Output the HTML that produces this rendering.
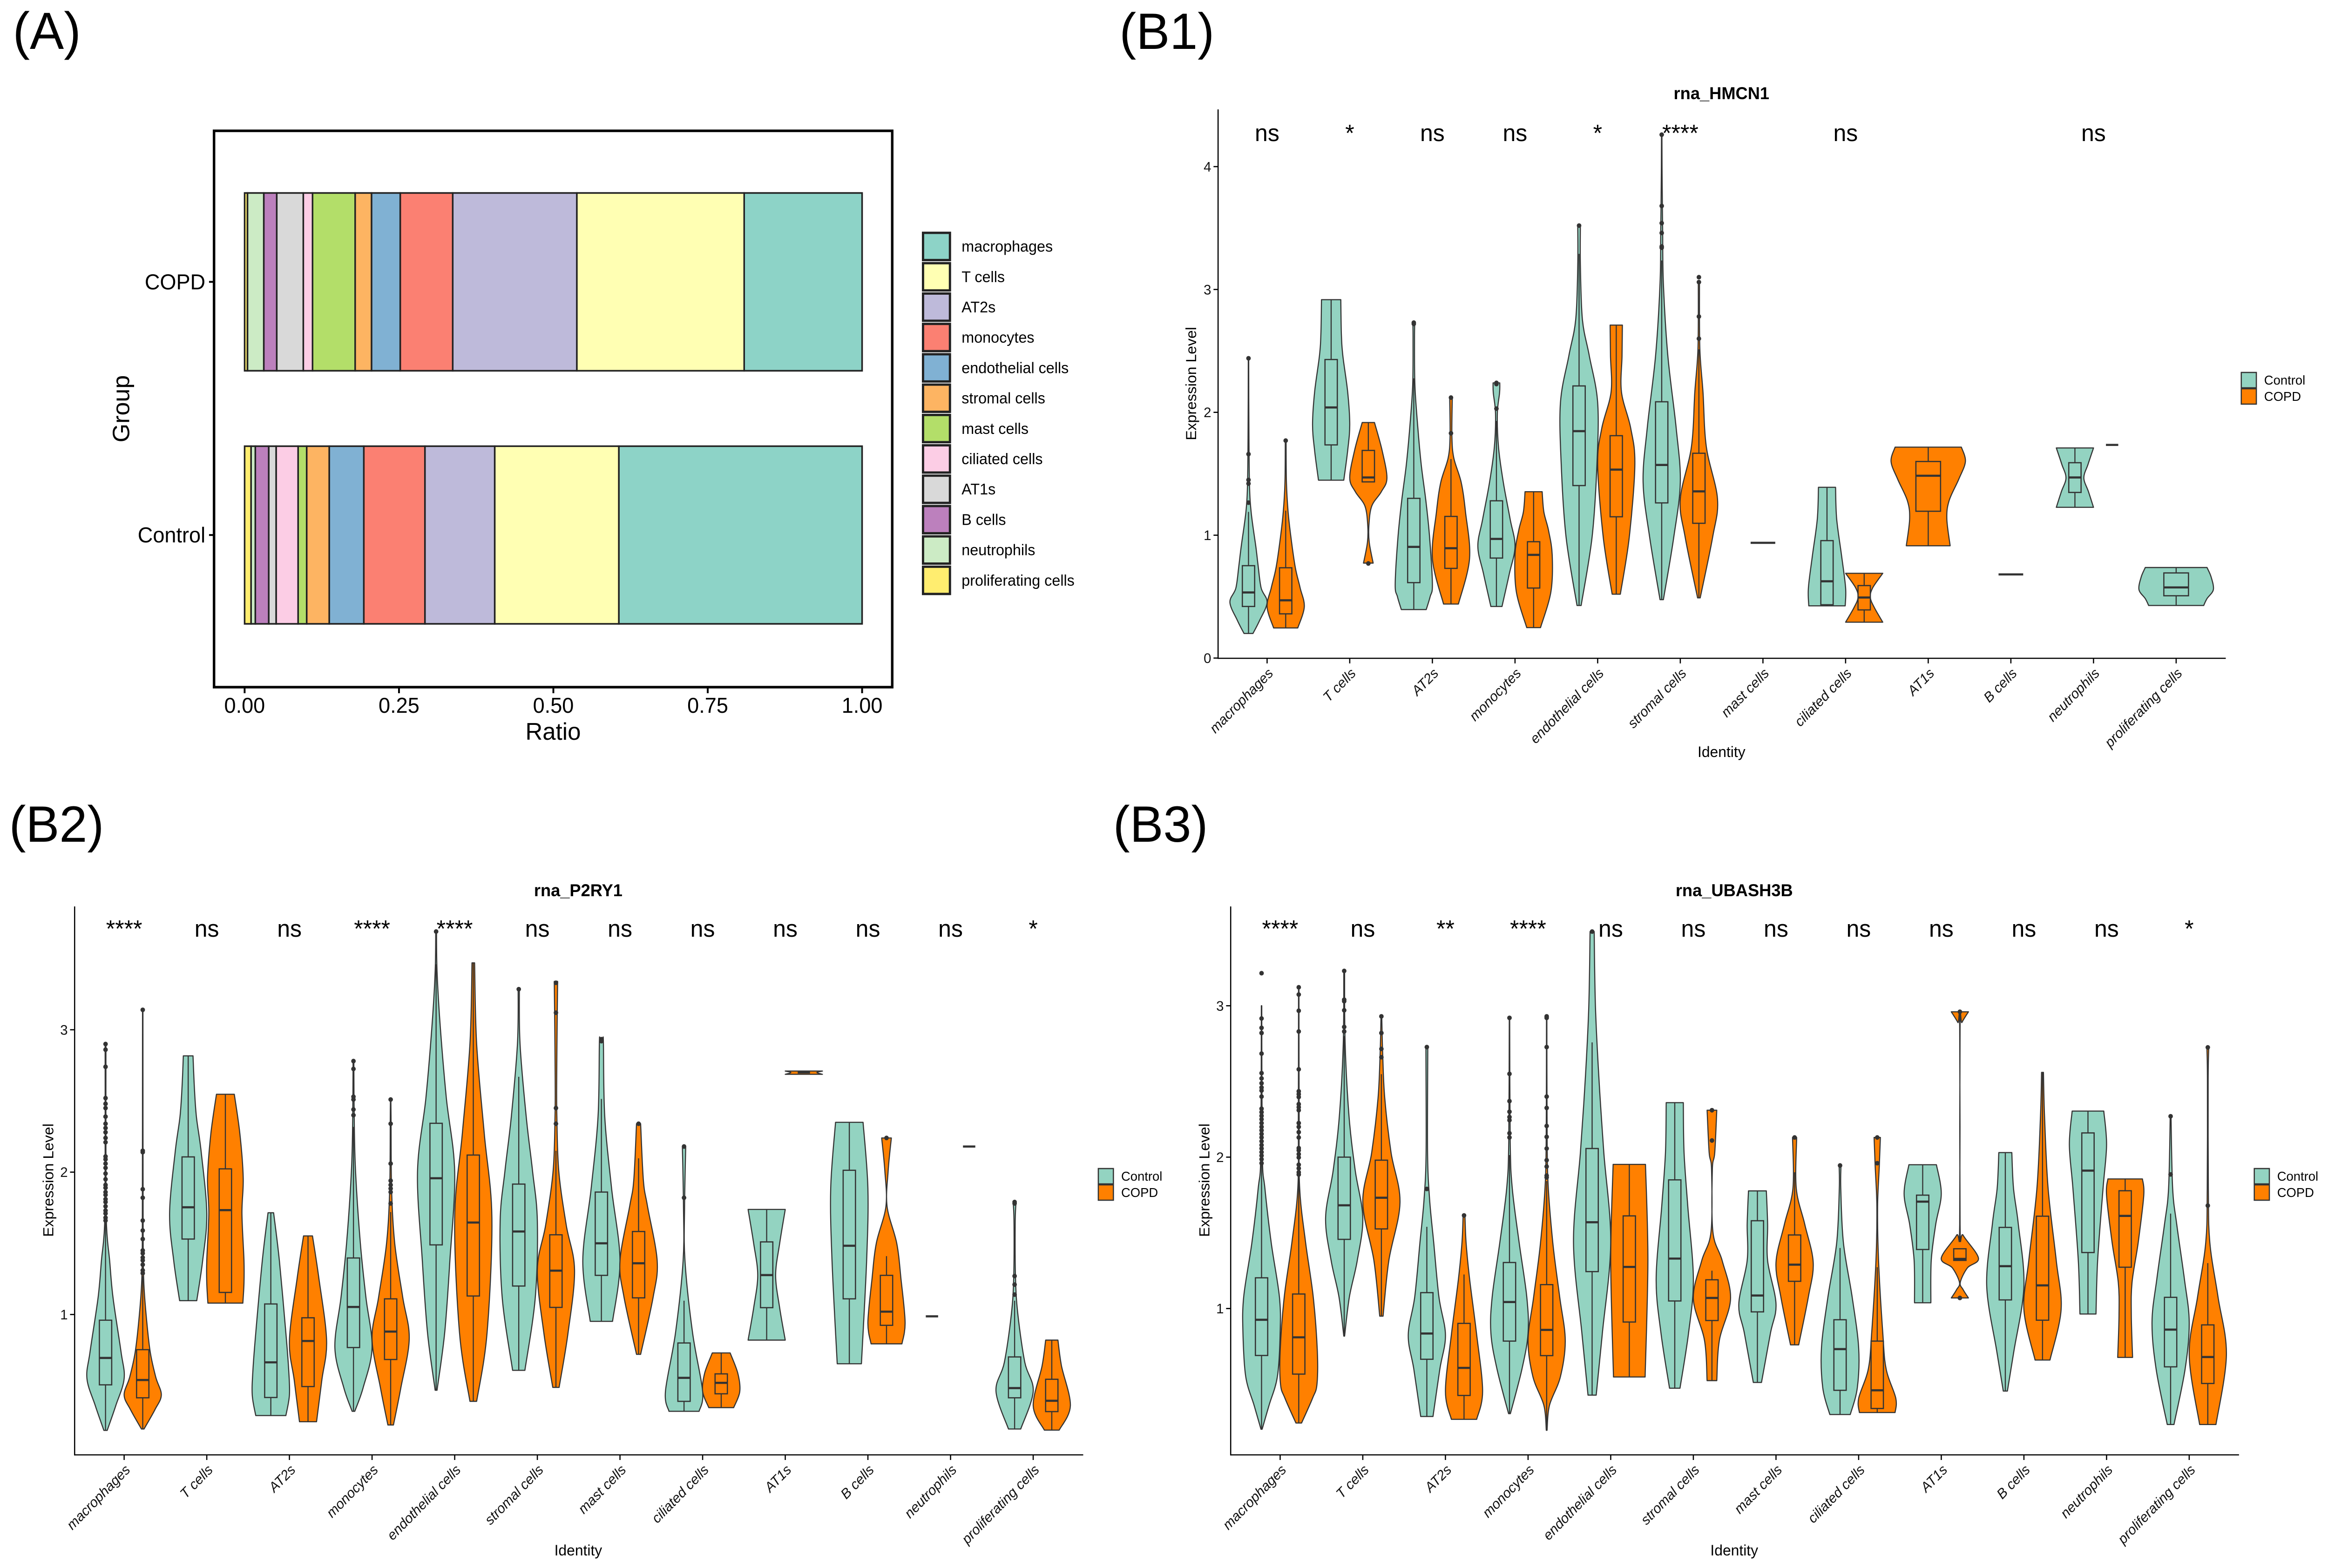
<!DOCTYPE html>
<html>
<head>
<meta charset="utf-8">
<title>Cell ratio and expression violin plots</title>
<style>
html,body{margin:0;padding:0;background:#fff;width:100%;height:100%;overflow:hidden;}
svg{display:block;width:100vw;height:100vh;font-family:"Liberation Sans",sans-serif;}
</style>
</head>
<body>
<svg id="figure" xmlns="http://www.w3.org/2000/svg" viewBox="0 0 5101 3368" preserveAspectRatio="none">
<rect x="0" y="0" width="5101" height="3368" fill="#ffffff"/>
</svg>
<script>
/* ---------- shared categories ---------- */
const cellTypes = ['macrophages','T cells','AT2s','monocytes','endothelial cells','stromal cells','mast cells','ciliated cells','AT1s','B cells','neutrophils','proliferating cells'];
const setColors = ['#8DD3C7','#FFFFB3','#BEBADA','#FB8072','#80B1D3','#FDB462','#B3DE69','#FCCDE5','#D9D9D9','#BC80BD','#CCEBC5','#FFED6F'];
const groupNames = ['Control','COPD'];
const groupColors = ['#93D3C1','#FF8000'];

/* ---------- panel A ---------- */
const ratioGroups = ['COPD','Control'];
const ratioCopd = [0.191,0.271,0.201,0.085,0.0465,0.0265,0.069,0.015,0.043,0.021,0.0264,0.0046];
const ratioControl = [0.394,0.201,0.113,0.099,0.056,0.0365,0.0139,0.0356,0.012,0.0217,0.0069,0.0104];
const ratioTicks = [0,0.25,0.5,0.75,1];
const ratioTickLabels = ['0.00','0.25','0.50','0.75','1.00'];

/* ---------- panel B1: rna_HMCN1 ---------- */
const hmcn1Signif = ['ns','*','ns','ns','*','****','','ns','','','ns',''];
const hmcn1Ticks = [0,1,2,3,4];
const hmcn1ControlShape = [
 [[.2,.24],[.307,.6],[.454,1],[.57,.68],[.75,.52],[.9,.4],[1.19,.14],[1.43,.05],[1.9,.02],[2.44,.01]],
 [[1.448,.68],[1.69,.89],[1.9,1],[2.165,.89],[2.46,.63],[2.64,.55],[2.917,.52]],
 [[.395,.67],[.5,.88],[.6,1],[.985,.85],[1.28,.65],[1.575,.4],[1.87,.22],[2.22,.06],[2.6,.04],[2.73,.05]],
 [[.42,.3],[.69,.7],[.91,1],[1.13,.74],[1.43,.37],[1.72,.11],[1.99,.05],[2.16,.17],[2.24,.18]],
 [[.428,.11],[.985,.7],[1.575,.96],[2.08,1],[2.46,.55],[2.755,.18],[3.2,.07],[3.52,.07]],
 [[.475,.09],[.985,.65],[1.43,1],[1.87,.78],[2.46,.33],[3.05,.09],[3.49,.05],[3.93,.02],[4.26,.01]],
 null,
 [[.425,.98],[.572,1],[.838,.78],[1.133,.52],[1.39,.46]],
 null,
 null,
 [[1.227,1],[1.354,.73],[1.466,.48],[1.575,.7],[1.71,1]],
 [[.428,.74],[.484,.83],[.557,1],[.66,.94],[.737,.83]]
];
const hmcn1CopdShape = [
 [[.245,.65],[.416,1],[.57,.78],[.735,.52],[.985,.28],[1.19,.13],[1.43,.04],[1.77,.02]],
 [[.773,.26],[.94,.05],[1.074,.03],[1.236,.18],[1.354,.7],[1.466,1],[1.69,.74],[1.917,.33]],
 [[.44,.4],[.81,1],[1.19,.78],[1.43,.55],[1.63,.15],[1.81,.05],[2.12,.07]],
 [[.248,.37],[.54,.93],[.84,1],[1.04,.8],[1.19,.55],[1.354,.46]],
 [[.52,.22],[.985,.7],[1.575,1],[1.87,.78],[2.165,.28],[2.46,.31],[2.71,.33]],
 [[.49,.07],[.985,.74],[1.295,1],[1.72,.4],[2.165,.22],[2.52,.05],[3.05,.03]],
 null,
 [[.292,1],[.41,.55],[.493,.33],[.572,.46],[.69,1]],
 [[.914,.59],[1.133,.5],[1.28,.56],[1.455,.82],[1.6,1],[1.717,.89]],
 null,
 null,
 null
];
const hmcn1ControlBox = [[.2,.42,.534,.752,1.19],[1.448,1.735,2.04,2.43,2.917],[.395,.614,.905,1.3,2.277],[.42,.814,.97,1.28,1.93],[.428,1.404,1.847,2.215,3.29],[.475,1.263,1.572,2.086,3.236],[.938,.938,.938,.938,.938],[.425,.434,.625,.956,1.39],null,[.681,.681,.681,.681,.681],[1.227,1.348,1.47,1.59,1.71],[.428,.507,.575,.693,.737]];
const hmcn1CopdBox = [[.245,.36,.47,.735,1.2],[1.434,1.434,1.47,1.69,1.917],[.44,.73,.894,1.153,1.62],[.248,.57,.84,.947,1.354],[.52,1.15,1.534,1.81,2.71],[.49,1.097,1.357,1.667,2.513],null,[.292,.392,.493,.59,.69],[.914,1.195,1.484,1.6,1.717],null,[1.735,1.735,1.735,1.735,1.735],null];
const hmcn1ControlOut = [[1.265,1.42,1.45,1.66,2.44],[],[2.73,2.72],[2.03,2.23,2.24],[3.52],[3.34,3.35,3.46,3.54,3.68,4.26],[],[],[],[],[],[]];
const hmcn1CopdOut = [[1.77],[.77],[1.83,2.12],[],[],[2.6,2.78,3.06,3.1],[],[],[],[],[],[]];

/* ---------- panel B2: rna_P2RY1 ---------- */
const p2ry1Signif = ['****','ns','ns','****','****','ns','ns','ns','ns','ns','ns','*'];
const p2ry1Ticks = [1,2,3];
const p2ry1ControlShape = [
 [[.186,.09],[.36,.55],[.55,1],[.74,.83],[1.12,.4],[1.38,.22],[1.63,.05],[2.14,.02],[2.9,.02]],
 [[1.097,.46],[1.38,.78],[1.71,1],[2.14,.7],[2.39,.44],[2.6,.33],[2.817,.26]],
 [[.29,.81],[.435,1],[.613,.96],[.87,.81],[1.377,.46],[1.715,.15]],
 [[.32,.07],[.486,.52],[.766,1],[1.12,.67],[1.5,.37],[2.01,.11],[2.39,.04],[2.78,.02]],
 [[.468,.05],[.87,.46],[1.377,.74],[2,1],[2.52,.55],[3.03,.22],[3.41,.05],[3.69,.02]],
 [[.608,.33],[1.12,.89],[1.656,1],[2.01,.74],[2.39,.4],[2.9,.07],[3.285,.03]],
 [[.952,.6],[1.377,1],[1.885,.55],[2.39,.18],[2.9,.11],[2.934,.09]],
 [[.32,.81],[.46,1],[.87,.46],[1.377,.05],[1.76,.03],[2.18,.09]],
 [[.82,1],[1.046,.7],[1.275,.48],[1.5,.7],[1.738,1]],
 [[.654,.65],[1.377,.93],[1.885,1],[2.35,.74]],
 null,
 [[.196,.33],[.46,1],[.664,.55],[.995,.18],[1.25,.05],[1.63,.03],[1.78,.07]]
];
const p2ry1CopdShape = [
 [[.196,.07],[.33,.65],[.435,1],[.56,.7],[.74,.4],[1,.18],[1.25,.05],[1.63,.02],[3.13,.01]],
 [[1.08,.94],[1.22,1],[1.38,1],[1.71,.89],[1.96,.96],[2.27,.78],[2.547,.48]],
 [[.247,.46],[.537,.74],[.817,1],[1.25,.59],[1.552,.24]],
 [[.224,.15],[.486,.55],[.83,1],[1.12,.65],[1.5,.22],[1.885,.05],[2.39,.02],[2.51,.01]],
 [[.39,.18],[.87,.74],[1.68,1],[2.27,.59],[2.9,.18],[3.47,.07]],
 [[.488,.17],[.87,.65],[1.313,1],[1.63,.55],[2.01,.15],[2.39,.05],[2.65,.04],[3.11,.07],[3.34,.09]],
 [[.72,.11],[1.12,.78],[1.377,1],[1.76,.48],[1.94,.26],[2.34,.11]],
 [[.346,.67],[.46,1],[.588,.89],[.73,.48]],
 [[2.687,1],[2.7,.7],[2.71,1]],
 [[.794,.83],[.944,1],[1.25,.78],[1.5,.55],[1.76,.03],[2.01,.09],[2.24,.26]],
 null,
 [[.188,.4],[.36,1],[.64,.52],[.82,.33]]
];
const p2ry1ControlBox = [[.186,.506,.695,.96,1.644],[1.097,1.53,1.753,2.107,2.817],[.29,.417,.664,1.074,1.715],[.32,.768,1.053,1.397,2.318],[.468,1.489,1.957,2.343,3.46],[.608,1.2,1.583,1.916,2.67],[.952,1.275,1.5,1.86,2.514],[.32,.39,.555,.8,1.097],[.82,1.048,1.277,1.51,1.738],[.654,1.11,1.483,2.013,2.35],[.987,.987,.987,.987,.987],[.196,.415,.483,.702,1.097]];
const p2ry1CopdBox = [[.196,.415,.54,.753,1.27],[1.08,1.155,1.733,2.023,2.547],[.247,.494,.814,.977,1.552],[.224,.684,.88,1.11,1.72],[.39,1.13,1.646,2.12,3.47],[.488,1.05,1.308,1.56,2.15],[.72,1.117,1.36,1.583,2.097],[.346,.443,.52,.583,.73],[2.7,2.7,2.7,2.7,2.7],[.794,.924,1.02,1.275,1.41],[2.18,2.18,2.18,2.18,2.18],[.188,.318,.394,.545,.82]];
const p2ry1ControlOut = [[2.9,2.86,2.74,2.52,2.48,2.45,2.39,2.34,2.31,2.28,2.24,2.21,2.11,2.09,2.06,2.03,1.99,1.95,1.91,1.89,1.86,1.84,1.81,1.79,1.76,1.73,1.71,1.68,1.66],[],[],[2.78,2.725,2.53,2.51,2.44,2.4],[3.69],[3.285],[2.934,2.92],[2.18,1.82],[],[],[],[1.78,1.79,1.27,1.21,1.14]];
const p2ry1CopdOut = [[3.14,2.15,2.14,1.88,1.82,1.66,1.59,1.53,1.45,1.43,1.4,1.38,1.35,1.31,1.29],[],[],[2.51,2.34,2.06,1.94,1.91,1.885,1.86,1.78],[],[3.33,3.12,2.45,2.34],[2.34],[],[],[2.24],[],[]];

/* ---------- panel B3: rna_UBASH3B ---------- */
const ubash3bSignif = ['****','ns','**','****','ns','ns','ns','ns','ns','ns','ns','*'];
const ubash3bTicks = [1,2,3];
const ubash3bControlShape = [
 [[.203,.03],[.36,.4],[.55,.85],[.837,1],[1.077,.96],[1.435,.52],[1.794,.18],[2.03,.04],[3,.01]],
 [[.818,.02],[1.077,.28],[1.316,.7],[1.6,1],[1.914,.59],[2.27,.26],[2.75,.05],[3.23,.02]],
 [[.287,.33],[.6,.7],[.825,1],[1.077,.65],[1.435,.37],[1.72,.15],[2.03,.04],[2.727,.05]],
 [[.306,.05],[.6,.67],[.837,1],[1.077,.93],[1.435,.52],[1.794,.15],[2.1,.04],[2.92,.01]],
 [[.428,.22],[.837,.55],[1.435,1],[2.03,.63],[2.51,.37],[2.99,.18],[3.49,.11]],
 [[.474,.28],[.837,.74],[1.196,1],[1.675,.7],[2.03,.5],[2.36,.46]],
 [[.512,.22],[.837,.7],[1.03,1],[1.316,.55],[1.555,.55],[1.777,.48]],
 [[.3,.55],[.478,.93],[.74,1],[1.077,.65],[1.435,.18],[1.794,.04],[1.945,.05]],
 [[1.038,.44],[1.316,.46],[1.555,.7],[1.758,1],[1.95,.74]],
 [[.455,.11],[.718,.46],[1.148,1],[1.555,.7],[1.794,.44],[2.03,.35]],
 [[.964,.43],[1.316,.52],[1.794,.81],[2.08,1],[2.304,.85]],
 [[.234,.18],[.6,.78],[.91,1],[1.196,.74],[1.555,.33],[1.794,.11],[2.27,.02]]
];
const ubash3bCopdShape = [
 [[.244,.15],[.407,.74],[.5,.98],[.718,1],[1.077,.78],[1.435,.37],[1.794,.05],[2.27,.02],[3.12,.01]],
 [[.95,.09],[1.316,.4],[1.7,1],[2.03,.52],[2.39,.18],[2.68,.07],[2.93,.02]],
 [[.268,.68],[.455,1],[.837,.67],[1.196,.3],[1.435,.11],[1.615,.05]],
 [[.196,.02],[.36,.15],[.55,.74],[.79,1],[1.077,.7],[1.435,.33],[1.84,.07],[2.27,.02],[2.93,.01]],
 [[.548,.85],[1.316,1],[1.952,.87]],
 [[.524,.26],[.79,.4],[1.065,1],[1.316,.55],[1.507,.05],[1.914,.02],[2.03,.15],[2.31,.26]],
 [[.76,.22],[1.077,.74],[1.304,1],[1.555,.55],[1.794,.09],[2.13,.11]],
 [[.313,.96],[.407,1],[.6,.48],[.837,.3],[1.316,.07],[1.675,.02],[1.94,.11],[2.13,.17]],
 [[1.07,.46],[1.124,.18],[1.172,.02],[1.268,.4],[1.333,1],[1.483,.18],[1.555,.01],[2.85,.01],[2.89,.11],[2.96,.46]],
 [[.66,.4],[.993,1],[1.316,.74],[1.794,.3],[2.27,.11],[2.56,.05]],
 [[.677,.4],[.957,.33],[1.172,.37],[1.435,.7],[1.746,1],[1.856,.93]],
 [[.234,.44],[.694,1],[1.077,.55],[1.435,.11],[1.794,.03],[2.51,.02],[2.725,.05]]
];
const ubash3bControlBox = [[.203,.69,.926,1.203,1.974],[.818,1.457,1.682,2,2.8],[.287,.665,.835,1.105,1.54],[.306,.785,1.043,1.304,2.014],[.428,1.244,1.57,2.057,2.758],[.474,1.05,1.33,1.85,2.36],[.512,.978,1.086,1.58,1.777],[.3,.46,.732,.926,1.4],[1.038,1.39,1.706,1.749,1.95],[.455,1.057,1.28,1.536,2.03],[.964,1.37,1.911,2.16,2.304],[.234,.615,.861,1.074,1.627]];
const ubash3bCopdBox = [[.244,.567,.81,1.096,1.878],[.95,1.526,1.732,1.98,2.548],[.268,.426,.608,.902,1.225],[.196,.689,.859,1.158,1.842],[.548,.911,1.275,1.612,1.952],[.524,.921,1.07,1.19,1.25],[.76,1.18,1.29,1.486,1.9],[.313,.34,.46,.785,1.273],[1.318,1.318,1.328,1.395,1.395],[.66,.923,1.153,1.61,2.56],[.677,1.273,1.612,1.778,1.856],[.234,.505,.68,.892,1.3]];
const ubash3bControlOut = [[3.215,2.916,2.854,2.82,2.684,2.555,2.52,2.488,2.46,2.44,2.4,2.32,2.297,2.273,2.25,2.225,2.2,2.177,2.153,2.13,2.105,2.08,2.057,2.033,2.01,1.986,1.96],[3.23,3.04,3.03,2.97,2.86,2.83],[2.727,1.79],[2.92,2.55,2.37,2.3,2.265,2.244,2.158,2.13],[3.49],[],[],[1.945],[],[],[],[2.27,1.886]];
const ubash3bCopdOut = [[3.122,3.074,2.967,2.83,2.58,2.435,2.416,2.397,2.35,2.33,2.31,2.225,2.2,2.165,2.13,2.06,2.045,2.02,1.998,1.95,1.926,1.9,1.885],[2.93,2.82,2.715,2.66],[1.615],[2.93,2.92,2.727,2.4,2.325,2.206,2.134,2.057,1.98,1.938,1.878,1.866],[],[2.31,2.11],[2.13],[2.13,1.96],[2.96,1.07],[],[],[2.725,1.68]];

/* ---------- drawing ---------- */
const SVGNS = 'http://www.w3.org/2000/svg';
const root = document.getElementById('figure');
const DARK = '#333333';

function mk(tag, attrs, parent) {
  const el = document.createElementNS(SVGNS, tag);
  for (const k in attrs) el.setAttribute(k, attrs[k]);
  (parent || root).appendChild(el);
  return el;
}
function named(el, name) {
  
  
  return el;
}
function label(str, x, y, size, opts, parent) {
  const a = Object.assign({x: x, y: y, 'font-size': size, fill: '#000'}, opts || {});
  const t = mk('text', a, parent);
  t.textContent = str;
  return t;
}
function slug(s) { return s.toLowerCase().replace(/[^a-z0-9]+/g, '-'); }

/* panel letters */
const panelLetters = [['(A)',28,105,112],['(B1)',2453,105,110],['(B2)',20,1808,110],['(B3)',2439,1808,110]];
panelLetters.forEach(function (p) {
  const t = label(p[0], p[1], p[2], p[3]);
  named(t, 'panel-label-' + slug(p[0]));
});

/* ---- Panel A ---- */
(function () {
  const x0 = 536, x1 = 1889;
  const xA = function (v) { return x0 + (x1 - x0) * v; };
  const g = mk('g', {});
  named(g, 'ratio-chart');
  const bands = [[414.5, 796.4, ratioCopd], [958.4, 1340, ratioControl]];
  bands.forEach(function (b, i) {
    let right = 1;
    b[2].forEach(function (val, j) {
      const left = right - val;
      const seg = mk('rect', {x: xA(left), y: b[0], width: xA(right) - xA(left), height: b[1] - b[0], fill: setColors[j], stroke: '#222', 'stroke-width': 3.5}, g);
      named(seg, 'bar-' + slug(ratioGroups[i]) + '-' + slug(cellTypes[j]));
      right = left;
    });
    const yc = (b[0] + b[1]) / 2;
    const tk = mk('line', {x1: 458, x2: 469, y1: yc, y2: yc, stroke: '#000', 'stroke-width': 4}, g);
    named(tk, 'y-tick-' + slug(ratioGroups[i]));
    const tl = label(ratioGroups[i], 450, yc + 16, 46, {'text-anchor': 'end'}, g);
    named(tl, 'y-tick-label-' + slug(ratioGroups[i]));
  });
  const frame = mk('rect', {x: 469, y: 281, width: 1486, height: 1195, fill: 'none', stroke: '#000', 'stroke-width': 5.5}, g);
  named(frame, 'plot-border');
  ratioTicks.forEach(function (v, i) {
    const tk = mk('line', {x1: xA(v), x2: xA(v), y1: 1476, y2: 1489, stroke: '#000', 'stroke-width': 4}, g);
    named(tk, 'x-tick');
    const tl = label(ratioTickLabels[i], xA(v), 1531, 46, {'text-anchor': 'middle'}, g);
    named(tl, 'x-tick-label');
  });
  const xt = label('Ratio', 1212, 1589, 52, {'text-anchor': 'middle'}, g);
  named(xt, 'x-axis-title');
  const yt = label('Group', 283, 878, 52, {'text-anchor': 'middle', transform: 'rotate(-90 283 878)'}, g);
  named(yt, 'y-axis-title');
  cellTypes.forEach(function (c, i) {
    const y = 497.6 + i * 65.2;
    const sw = mk('rect', {x: 2022.5, y: y + 2.5, width: 59, height: 58.5, fill: setColors[i], stroke: '#222', 'stroke-width': 5}, g);
    named(sw, 'legend-swatch-' + slug(c));
    const tl = label(c, 2107, y + 43, 33, {}, g);
    named(tl, 'legend-entry-' + slug(c));
  });
})();

/* ---- Violin panels ---- */
function splineSide(pts) {
  /* Catmull-Rom through points, returned as cubic segments */
  let d = '';
  for (let i = 0; i < pts.length - 1; i++) {
    const p0 = pts[Math.max(i - 1, 0)], p1 = pts[i], p2 = pts[i + 1], p3 = pts[Math.min(i + 2, pts.length - 1)];
    const c1x = p1[0] + (p2[0] - p0[0]) / 6, c1y = p1[1] + (p2[1] - p0[1]) / 6;
    const c2x = p2[0] - (p3[0] - p1[0]) / 6, c2y = p2[1] - (p3[1] - p1[1]) / 6;
    d += 'C' + c1x.toFixed(1) + ' ' + c1y.toFixed(1) + ' ' + c2x.toFixed(1) + ' ' + c2y.toFixed(1) + ' ' + p2[0].toFixed(1) + ' ' + p2[1].toFixed(1);
  }
  return d;
}

function violinPanel(cfg) {
  const step = 181.08;
  const dodge = 0.225 * step;
  const xCat = function (i) { return cfg.x0 + i * step; };
  const yVal = function (v) { return cfg.yOne - (v - 1) * cfg.unit; };
  const g = mk('g', {});
  named(g, 'violin-panel-' + cfg.key);

  /* violins + boxes, per category and group */
  const shapes = [cfg.shapes[0], cfg.shapes[1]];
  const boxes = [cfg.boxes[0], cfg.boxes[1]];
  const outs = [cfg.outs[0], cfg.outs[1]];
  cellTypes.forEach(function (cat, i) {
    const present = [boxes[0][i] || shapes[0][i], boxes[1][i] || shapes[1][i]].filter(Boolean).length;
    const solo = present === 1;
    [0, 1].forEach(function (gi) {
      const box = boxes[gi][i], shape = shapes[gi][i];
      if (!box && !shape) return;
      const cx = solo ? xCat(i) : xCat(i) + (gi === 0 ? -dodge : dodge);
      const unitW = solo ? dodge * 2 : dodge;
      const boxHw = solo ? 27 : 13.5;
      const tag = slug(cat) + '-' + slug(groupNames[gi]);
      if (shape) {
        const right = shape.map(function (s) { return [cx + s[1] * unitW, yVal(s[0])]; });
        const left = shape.map(function (s) { return [cx - s[1] * unitW, yVal(s[0])]; }).reverse();
        const d = 'M' + right[0][0].toFixed(1) + ' ' + right[0][1].toFixed(1) + splineSide(right) +
          'L' + left[0][0].toFixed(1) + ' ' + left[0][1].toFixed(1) + splineSide(left) + 'Z';
        const v = mk('path', {d: d, fill: groupColors[gi], stroke: DARK, 'stroke-width': 2.4, 'stroke-linejoin': 'round'}, g);
        named(v, 'violin-' + tag);
      }
      if (box) {
        if (box[0] === box[4]) {
          const m = mk('line', {x1: cx - boxHw, x2: cx + boxHw, y1: yVal(box[2]), y2: yVal(box[2]), stroke: DARK, 'stroke-width': 4.6}, g);
          named(m, 'median-line-' + tag);
        } else {
          const wh = mk('line', {x1: cx, x2: cx, y1: yVal(box[0]), y2: yVal(box[4]), stroke: DARK, 'stroke-width': 2.4}, g);
          named(wh, 'whisker-' + tag);
          const r = mk('rect', {x: cx - boxHw, y: yVal(box[3]), width: boxHw * 2, height: yVal(box[1]) - yVal(box[3]), fill: groupColors[gi], stroke: DARK, 'stroke-width': 2.6}, g);
          named(r, 'box-' + tag);
          const m = mk('line', {x1: cx - boxHw, x2: cx + boxHw, y1: yVal(box[2]), y2: yVal(box[2]), stroke: DARK, 'stroke-width': 4.6}, g);
          named(m, 'median-line-' + tag);
        }
      }
      (outs[gi][i] || []).forEach(function (o) {
        const c = mk('circle', {cx: cx, cy: yVal(o), r: 5, fill: DARK}, g);
        named(c, 'outlier-' + tag);
      });
    });
    const x = xCat(i);
    const tk = mk('line', {x1: x, x2: x, y1: cfg.axisY, y2: cfg.axisY + 11, stroke: '#000', 'stroke-width': 2.6}, g);
    named(tk, 'x-tick-' + slug(cat));
    const ax = x + 15, ay = cfg.axisY + 34;
    const tl = label(cat, ax, ay, 30, {'text-anchor': 'end', 'font-style': 'italic', fill: '#111', transform: 'rotate(-45 ' + ax + ' ' + ay + ')'}, g);
    named(tl, 'x-tick-label-' + slug(cat));
    if (cfg.signif[i]) {
      const s = label(cfg.signif[i], x, cfg.sigY, 51, {'text-anchor': 'middle'}, g);
      named(s, 'significance-' + slug(cat));
    }
  });

  /* axes */
  const ya = mk('line', {x1: cfg.axisX, x2: cfg.axisX, y1: cfg.axisTop, y2: cfg.axisY + 1.3, stroke: '#000', 'stroke-width': 2.6}, g);
  named(ya, 'y-axis-line');
  const xa = mk('line', {x1: cfg.axisX, x2: cfg.axisRight, y1: cfg.axisY, y2: cfg.axisY, stroke: '#000', 'stroke-width': 2.6}, g);
  named(xa, 'x-axis-line');
  cfg.ticks.forEach(function (v) {
    const y = yVal(v);
    const tk = mk('line', {x1: cfg.axisX - 10, x2: cfg.axisX, y1: y, y2: y, stroke: '#000', 'stroke-width': 2.6}, g);
    named(tk, 'y-tick');
    const tl = label(String(v), cfg.axisX - 15, y + 10.5, 30, {'text-anchor': 'end', fill: '#111'}, g);
    named(tl, 'y-tick-label');
  });

  /* titles */
  const ti = label(cfg.title, cfg.centerX, cfg.titleY, 37, {'text-anchor': 'middle', 'font-weight': 'bold'}, g);
  named(ti, 'chart-title');
  const xt = label('Identity', cfg.centerX, cfg.identityY, 32.5, {'text-anchor': 'middle'}, g);
  named(xt, 'x-axis-title');
  const yt = label('Expression Level', cfg.ylabX, cfg.ylabY, 32, {'text-anchor': 'middle', transform: 'rotate(-90 ' + cfg.ylabX + ' ' + cfg.ylabY + ')'}, g);
  named(yt, 'y-axis-title');

  /* legend */
  groupNames.forEach(function (name, gi) {
    const y = cfg.legendY + gi * 35;
    const sw = mk('rect', {x: cfg.legendX, y: y, width: 33, height: 33, fill: groupColors[gi], stroke: DARK, 'stroke-width': 2.6}, g);
    named(sw, 'legend-swatch-' + slug(name));
    const t = label(name, cfg.legendX + 50, y + 26, 28, {}, g);
    named(t, 'legend-entry-' + slug(name));
  });
}

violinPanel({
  key: 'hmcn1', title: 'rna_HMCN1', x0: 2776.4, yOne: 1149.6, unit: 263.9,
  axisX: 2669, axisY: 1414, axisTop: 235, axisRight: 4877, sigY: 303,
  centerX: 3772, titleY: 213, identityY: 1626, ylabX: 2621, ylabY: 824,
  legendX: 4911, legendY: 800, ticks: hmcn1Ticks, signif: hmcn1Signif,
  shapes: [hmcn1ControlShape, hmcn1CopdShape], boxes: [hmcn1ControlBox, hmcn1CopdBox], outs: [hmcn1ControlOut, hmcn1CopdOut]
});
violinPanel({
  key: 'p2ry1', title: 'rna_P2RY1', x0: 272, yOne: 2823.5, unit: 305.8,
  axisX: 163.5, axisY: 3125, axisTop: 1947, axisRight: 2373.5, sigY: 2012,
  centerX: 1267, titleY: 1925, identityY: 3341, ylabX: 117, ylabY: 2535,
  legendX: 2406.6, legendY: 2510, ticks: p2ry1Ticks, signif: p2ry1Signif,
  shapes: [p2ry1ControlShape, p2ry1CopdShape], boxes: [p2ry1ControlBox, p2ry1CopdBox], outs: [p2ry1ControlOut, p2ry1CopdOut]
});
violinPanel({
  key: 'ubash3b', title: 'rna_UBASH3B', x0: 2805, yOne: 2810.7, unit: 325.2,
  axisX: 2696.6, axisY: 3125, axisTop: 1947, axisRight: 4906, sigY: 2012,
  centerX: 3800, titleY: 1925, identityY: 3341, ylabX: 2650, ylabY: 2535,
  legendX: 4939.5, legendY: 2510, ticks: ubash3bTicks, signif: ubash3bSignif,
  shapes: [ubash3bControlShape, ubash3bCopdShape], boxes: [ubash3bControlBox, ubash3bCopdBox], outs: [ubash3bControlOut, ubash3bCopdOut]
});
</script>
</body>
</html>
